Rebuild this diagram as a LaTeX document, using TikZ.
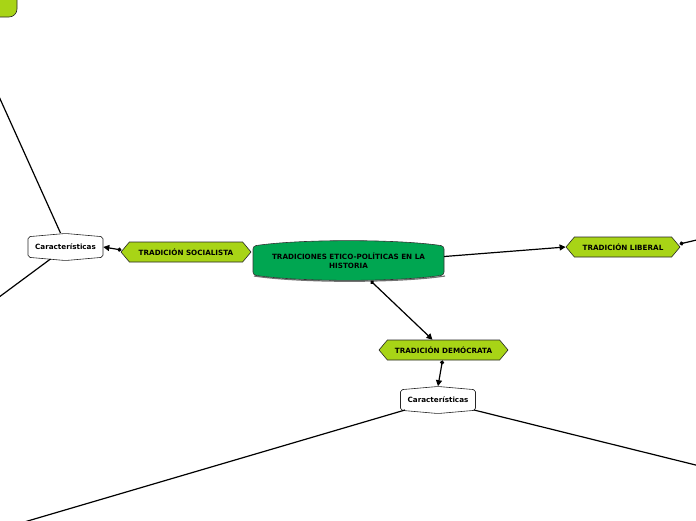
\documentclass[tikz,border=0pt]{standalone}
\usepackage{fontspec}
\newfontfamily\vfont{DejaVu Sans}
\usetikzlibrary{shapes.symbols,arrows.meta,calc,backgrounds}
\definecolor{cgreen}{RGB}{0,166,81}
\definecolor{ygreen}{RGB}{168,212,22}
\tikzset{
  lbl/.style={font=\vfont\bfseries\fontsize{7.2}{9}\selectfont, text=black},
  tradbox/.style={lbl, shape=signal, signal to=west and east, signal pointer angle=100,
    fill=ygreen, draw=black!85, line width=0.6pt, minimum height=20pt, inner sep=1pt},
  carbox/.style={lbl, shape=signal, signal to=north and south, signal pointer angle=170,
    fill=white, draw=black!85, line width=0.6pt, rounded corners=2pt,
    minimum width=75pt, minimum height=26pt, inner sep=1pt},
  conn/.style={line width=1.2pt, draw=black},
  link/.style={conn, {Diamond[length=4.5pt,width=4.5pt]}-{Triangle[length=6pt,width=6pt]}},
  plainlink/.style={conn, -{Triangle[length=6pt,width=6pt]}},
  startlink/.style={conn, {Diamond[length=4.5pt,width=4.5pt]}-},
}
\begin{document}
\begin{tikzpicture}[x=1pt,y=-1pt]
\clip (0,0) rectangle (696,520);

% top-left partially visible node
\draw[fill=ygreen, draw=black!85, line width=0.6pt, rounded corners=8pt] (-40,-20) rectangle (17,17);

% central node
\node[lbl, align=center, minimum width=191pt, minimum height=36pt, inner sep=0pt] (central) at (348.5,260.5)
  {TRADICIONES ETICO-POLÍTICAS EN LA\\HISTORIA};
\begin{scope}[on background layer]
\fill[white] (0,0) rectangle (696,520);
\draw[black!55, line width=1.2pt, rounded corners=3pt]
  (254,276) .. controls (301,283) and (398,283) .. (445,276);
\draw[fill=cgreen, draw=black!80, line width=0.6pt, rounded corners=3pt]
  (253,246) .. controls (300,239) and (397,239) .. (444,246) -- (444,275)
  .. controls (397,282) and (300,282) .. (253,275) -- cycle;
\end{scope}

% branch nodes
\node[tradbox, minimum width=130pt] (soc) at (186,252) {TRADICIÓN SOCIALISTA};
\node[tradbox, minimum width=114pt] (lib) at (623,247) {TRADICIÓN LIBERAL};
\node[tradbox, minimum width=129pt] (dem) at (443.5,350) {TRADICIÓN DEMÓCRATA};
\node[carbox] (car1) at (65.5,247) {Características};
\node[carbox] (car2) at (438,400) {Características};

% off-page coordinates
\coordinate (offA) at (-40,10);
\coordinate (offB) at (-40,326);
\coordinate (offC) at (-20,535);
\coordinate (offD) at (740,476);
\coordinate (offE) at (740,230);

% connectors
\draw[link] ($(soc.west)+(1,-2)$) -- (car1.east);
\draw[plainlink] ($(central.east)+(0,-4)$) -- (lib.west);
\draw[startlink] ($(lib.east)+(-1,-3)$) -- (offE);
\draw[link] ($(central.south)+(22,2)$) -- ($(dem.north)+(-11,0)$);
\draw[link] ($(dem.south)+(-1,0)$) -- (car2.north);
\draw[conn] ($(car1.center)+(-5,-14)$) -- (offA);
\draw[conn] ($(car1.center)+(-15,12)$) -- (offB);
\draw[conn] ($(car2.center)+(-33,10)$) -- (offC);
\draw[conn] ($(car2.center)+(36,10)$) -- (offD);
\end{tikzpicture}
\end{document}
